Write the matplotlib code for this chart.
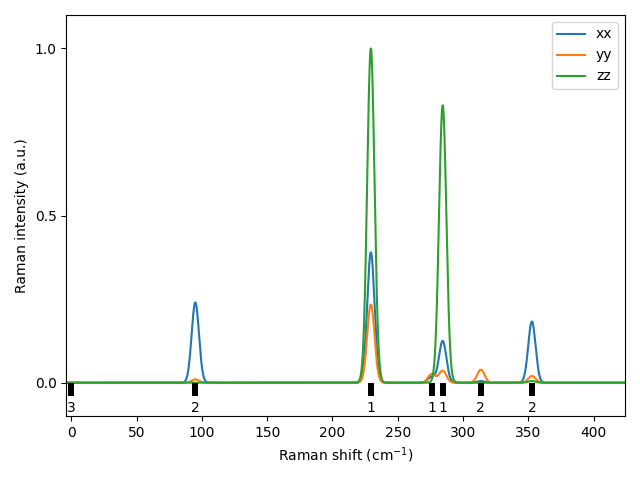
import numpy as np
import matplotlib
matplotlib.use("Agg")
import matplotlib.pyplot as plt

# Mode frequencies (cm^-1), degeneracies and Raman intensities per polarization
freqs = [0.0, 95.0, 229.4, 276.0, 284.4, 313.6, 352.7]
degeneracy = [3, 2, 1, 1, 1, 2, 2]
int_xx = [0.0, 0.240, 0.390, 0.018, 0.125, 0.005, 0.183]
int_yy = [0.0, 0.010, 0.234, 0.026, 0.036, 0.039, 0.020]
int_zz = [0.0, 0.000, 1.000, 0.000, 0.830, 0.000, 0.005]
sigma = 2.8

xmin, xmax = -3.8, 424.0
x = np.linspace(xmin, xmax, 2000)

def spectrum(intens):
    y = np.zeros_like(x)
    for f, a in zip(freqs, intens):
        y += a * np.exp(-0.5 * ((x - f) / sigma) ** 2)
    return y

fig, ax = plt.subplots(figsize=(6.4, 4.8), dpi=100)
ax.plot(x, spectrum(int_xx), label="xx")
ax.plot(x, spectrum(int_yy), label="yy")
ax.plot(x, spectrum(int_zz), label="zz")

ax.vlines(freqs, -0.04, 0, colors="black", linewidth=4.3)
for f, d in zip(freqs, degeneracy):
    ax.text(f, -0.077, str(d), ha="center", va="center", fontsize=10)

ax.set_xlim(xmin, xmax)
ax.set_ylim(-0.1, 1.1)
ax.set_yticks([0.0, 0.5, 1.0])
ax.set_xlabel("Raman shift (cm$^{-1}$)")
ax.set_ylabel("Raman intensity (a.u.)")
ax.legend(loc="upper right")
fig.tight_layout()
fig.savefig("out.png", dpi=100)
